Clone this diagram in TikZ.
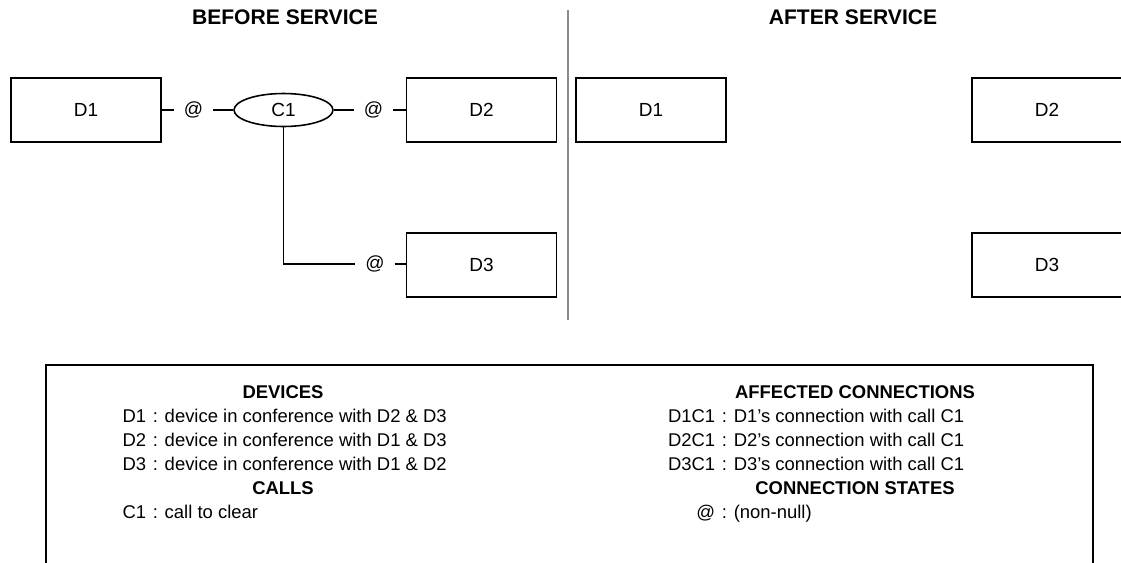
\documentclass[tikz,border=0pt]{standalone}
\usepackage{fontspec}
\setmainfont{Liberation Sans}
\usepackage{tikz}
\usetikzlibrary{shapes.geometric}

\begin{document}
\begin{tikzpicture}[x=0.02cm, y=-0.02cm, line width=0.9pt,
  dev/.style={draw, minimum width=3cm, minimum height=1.28cm, inner sep=0pt, font=\fontsize{10.8}{12}\selectfont},
  call/.style={draw, ellipse, minimum width=1.98cm, minimum height=0.66cm, inner sep=0pt, font=\fontsize{10.8}{12}\selectfont},
  st/.style={inner sep=0.2cm, outer sep=0pt, font=\fontsize{10.8}{12}\selectfont},
  ttl/.style={anchor=base, font=\fontsize{12}{14}\selectfont\bfseries},
  hdr/.style={anchor=base, font=\fontsize{10.5}{12}\selectfont\bfseries},
  key/.style={anchor=base east, inner sep=0pt, font=\fontsize{10.5}{12}\selectfont},
  txt/.style={anchor=base west, inner sep=0pt, font=\fontsize{10.5}{12}\selectfont}]
\useasboundingbox (0,0) rectangle (1121,562);

% panel titles and divider
\node[ttl] (tb) at (285,24.5) {BEFORE SERVICE};
\node[ttl] (ta) at (853,24.5) {AFTER SERVICE};
\draw[black!45, line width=1.1pt] (568,10) -- (568,320);

% before service
\node[dev] (d1b) at (86,110) {D1};
\node[call] (c1b) at (283.5,110) {C1};
\node[dev] (d2b) at (481.5,110) {D2};
\node[dev] (d3b) at (481.5,265) {D3};
\node[st] (s1) at (193.5,110) {@};
\node[st] (s2) at (373.5,110) {@};
\node[st] (s3) at (375,264) {@};
\draw (d1b) -- (s1) -- (c1b);
\draw (c1b) -- (s2) -- (d2b);
\draw (c1b) |- (s3);
\draw (s3) -- (d3b.west |- s3);

% after service
\node[dev] (d1a) at (651,110) {D1};
\node[dev] (d2a) at (1047,110) {D2};
\node[dev] (d3a) at (1047,265) {D3};

% legend
\draw[line width=1.2pt] (46,575) -- (46,365) -- (1093,365) -- (1093,575);
\node[hdr] (hdev) at (283,398) {DEVICES};
\node[key] (k1) at (147,422) {D1};
\node[txt] (t1) at (152,422) {: device in conference with D2 \& D3};
\node[key] (k2) at (147,446) {D2};
\node[txt] (t2) at (152,446) {: device in conference with D1 \& D3};
\node[key] (k3) at (147,470) {D3};
\node[txt] (t3) at (152,470) {: device in conference with D1 \& D2};
\node[hdr] (hcall) at (283,494) {CALLS};
\node[key] (k4) at (147,518) {C1};
\node[txt] (t4) at (152,518) {: call to clear};

\node[hdr] (hcon) at (855,398) {AFFECTED CONNECTIONS};
\node[key] (k5) at (716,422) {D1C1};
\node[txt] (t5) at (721,422) {: D1’s connection with call C1};
\node[key] (k6) at (716,446) {D2C1};
\node[txt] (t6) at (721,446) {: D2’s connection with call C1};
\node[key] (k7) at (716,470) {D3C1};
\node[txt] (t7) at (721,470) {: D3’s connection with call C1};
\node[hdr] (hst) at (855,494) {CONNECTION STATES};
\node[key] (k8) at (716,518) {@};
\node[txt] (t8) at (721,518) {: (non-null)};
\end{tikzpicture}
\end{document}
